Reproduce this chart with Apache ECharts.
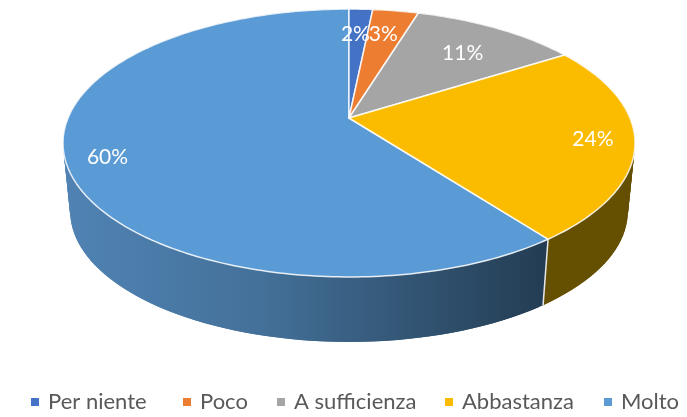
<!DOCTYPE html>
<html><head><meta charset="utf-8">
<style>html,body{margin:0;padding:0;background:#fff}#c{width:687px;height:417px}</style>
<script src="https://cdn.jsdelivr.net/npm/echarts@6/dist/echarts.min.js"></script>
</head><body><div id="c"></div>
<script>
const categories = ['Per niente','Poco','A sufficienza','Abbastanza','Molto'];
const values = [1.6,3.1,11.3,23.7,60.3];
const topColors = ['#4472C4','#ED7D31','#A5A5A5','#FBBC00','#5B9BD5'];
const sideColors = ['#2a4478','#8f4a1c','#636363','#654F00',null];
const labelRadius = [0.76,0.77,0.72,0.85,0.85];
const labelOffset = [[-3,2],[-3,2],[3,2],[2,1],[-3,2]];
const legendLeft = [31,183,277,445,604];

// perspective disc layout
const CX=349, CY=118, BX=281, AY=129.3, P=0.1866, DEPTH_Y=187, DEPTH_S=0.975;
const total = values.reduce((a,b)=>a+b,0);
function startAngle(i){let s=0;for(let k=0;k<i;k++)s+=values[k];return s/total*2*Math.PI;}
function endAngle(i){return startAngle(i)+values[i]/total*2*Math.PI;}
function proj(t,f,level){
  const X=Math.sin(t)*f,Y=Math.cos(t)*f,d=1+P*Y;
  if(level===1) return [CX+DEPTH_S*BX*X/d, DEPTH_Y-DEPTH_S*AY*Y/d];
  return [CX+BX*X/d, CY-AY*Y/d];
}
const moltoGradient = new echarts.graphic.LinearGradient(63,0,548,0,[
  {offset:0,color:'#5083B4'},{offset:0.4,color:'#44719A'},{offset:1,color:'#233C52'}],true);

function renderSide(params,api){
  const i=params.dataIndex, a=startAngle(i), b=endAngle(i), children=[];
  const fill = sideColors[i]||moltoGradient;
  const step=Math.PI/90;
  // overlapping strips sweep the wall between the two rims without seams
  for(let t=b-step;t>a-step;t-=step){
    const s=Math.max(t,a), u=Math.min(t+2*step,b);
    children.push({type:'polygon',shape:{points:[proj(s,1,0),proj(u,1,0),proj(u,1,1),proj(s,1,1)]},style:{fill:fill}});
  }
  children.push({type:'line',z2:5,shape:{x1:proj(a,1,0)[0],y1:proj(a,1,0)[1],x2:proj(a,1,1)[0],y2:proj(a,1,1)[1]},
    style:{stroke:'#e8e8e8',lineWidth:1.5}});
  return {type:'group',children};
}
function renderTop(i){
  return function(params,api){
    const a=startAngle(i), b=endAngle(i), pts=[[CX,CY]];
    const n=Math.max(4,Math.ceil((b-a)/(Math.PI/180)));
    for(let k=0;k<=n;k++)pts.push(proj(a+(b-a)*k/n,1,0));
    const m=(a+b)/2, lp=proj(m,labelRadius[i],0);
    return {type:'group',children:[
      {type:'polygon',shape:{points:pts},style:{fill:topColors[i],stroke:'rgba(255,255,255,0.85)',lineWidth:1.5,lineJoin:'round'}},
      {type:'text',z2:10,style:{x:lp[0]+labelOffset[i][0],y:lp[1]+labelOffset[i][1],text:Math.round(api.value(0)/total*100)+'%',
        fill:'#fff',font:'21px Lato, "Open Sans", sans-serif',align:'center',verticalAlign:'middle'}}
    ]};
  };
}
const series=[{type:'custom',name:'lati',coordinateSystem:'none',z:1,silent:true,data:values.map(v=>[v]),renderItem:renderSide,animation:false}];
categories.forEach((name,i)=>series.push({type:'custom',name:name,coordinateSystem:'none',z:2+(i===4?0:1),silent:true,
  itemStyle:{color:topColors[i]},data:[[values[i]]],renderItem:renderTop(i),animation:false}));
const legend=categories.map((name,i)=>({data:[name],left:legendLeft[i],top:391,itemWidth:8,itemHeight:8,icon:'rect',selectedMode:false,padding:0,
    textStyle:{color:'#595959',fontSize:22,padding:[0,0,0,4],fontFamily:'Lato, "Open Sans", sans-serif'}}));
const chart=echarts.init(document.getElementById('c'),null,{renderer:'canvas'});
chart.setOption({animation:false,backgroundColor:'#fff',legend,series});
</script></body></html>
